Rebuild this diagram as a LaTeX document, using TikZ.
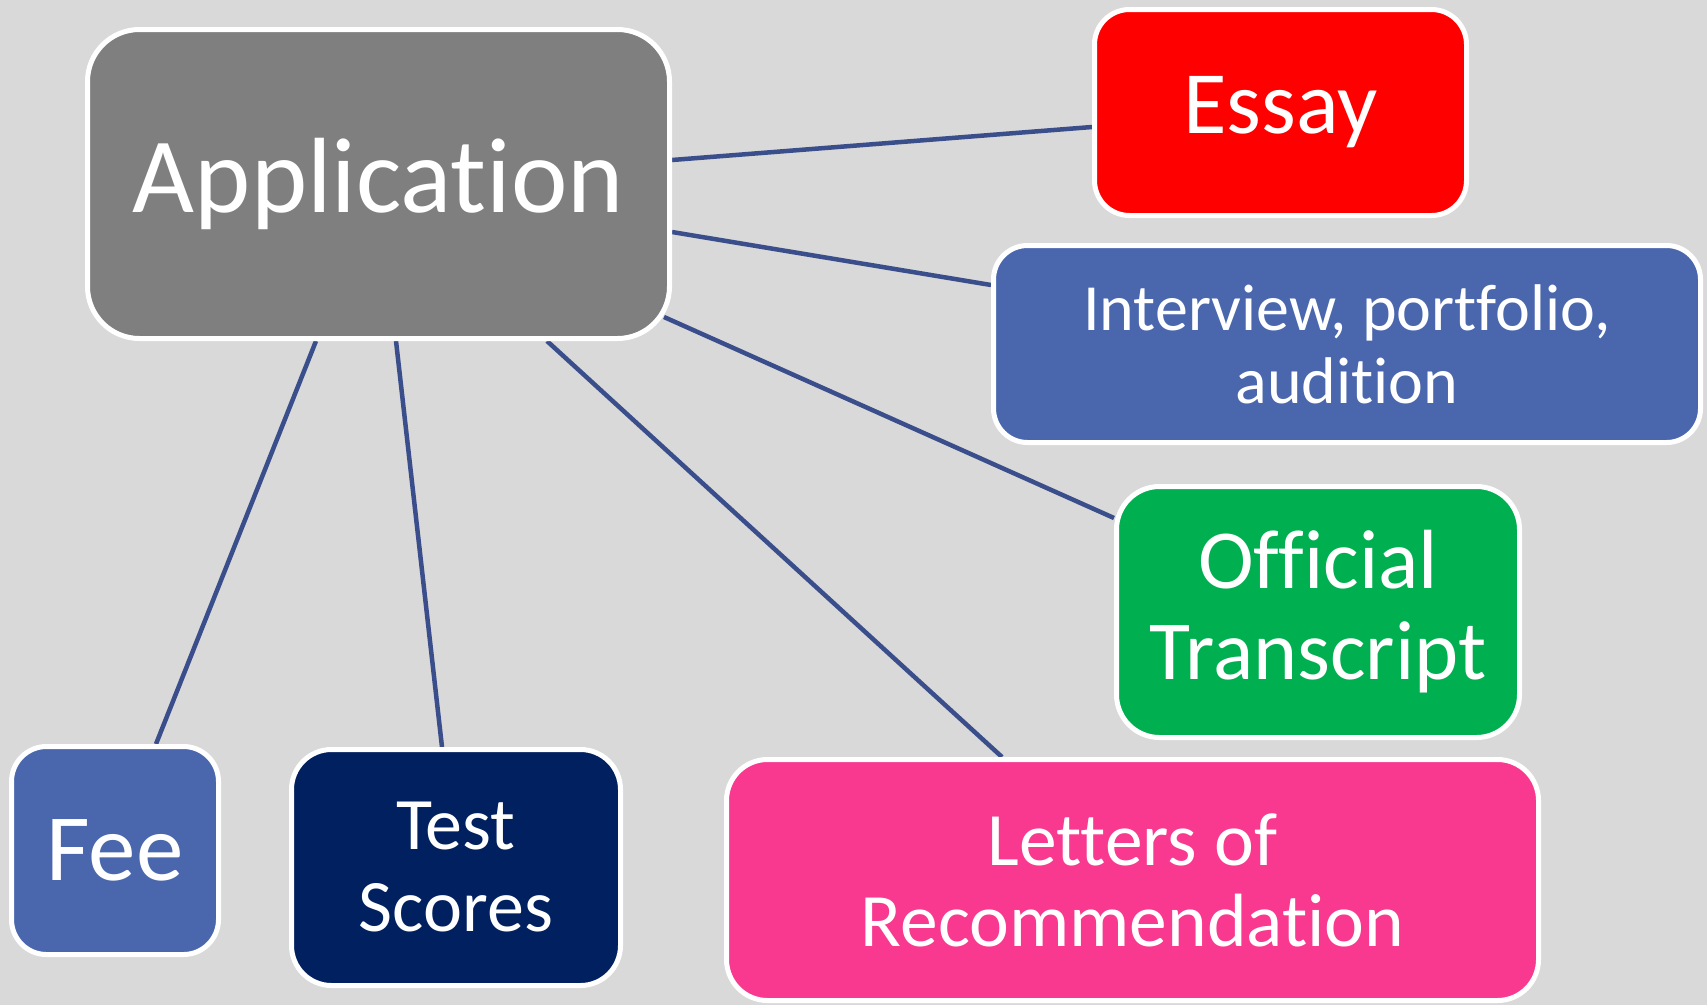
\documentclass[tikz,border=0pt]{standalone}
\usepackage{fontspec}
\setmainfont{Carlito}[Ligatures={NoCommon}]
\usetikzlibrary{calc}
\definecolor{canvas}{HTML}{D9D9D9}
\definecolor{linkblue}{HTML}{3A4E8C}
\definecolor{appgray}{HTML}{7F7F7F}
\definecolor{essayred}{HTML}{FF0000}
\definecolor{midblue}{HTML}{4A67AE}
\definecolor{navy}{HTML}{002060}
\definecolor{leafgreen}{HTML}{00B050}
\definecolor{hotpink}{HTML}{F9388F}
\pgfdeclarelayer{back}
\pgfdeclarelayer{links}
\pgfsetlayers{back,links,main}
\tikzset{
  card/.style={draw=white, line width=5pt, text=white, align=center,
    inner sep=0pt},
  link/.style={draw=linkblue, line width=4.5pt}
}
\newcommand{\fs}[2]{\fontsize{#1}{#2}\selectfont}
\begin{document}
\begin{tikzpicture}[x=1pt,y=-1pt]
  \begin{pgfonlayer}{back}
    \fill[canvas] (0,0) rectangle (1707,1005);
  \end{pgfonlayer}
  \useasboundingbox (0,0) rectangle (1707,1005);

  % hub and its parts
  \node[card, fill=appgray, minimum width=582pt, minimum height=309pt,
        rounded corners=52pt, font=\fs{107}{116}] (app) at (378.5,184)
        {\raisebox{-2pt}{Application}};
  \node[card, fill=essayred, minimum width=372pt, minimum height=206pt,
        rounded corners=35pt, font=\fs{89}{96}] (essay) at (1280.5,112.5)
        {\raisebox{-3pt}{Essay}};
  \node[card, fill=midblue, minimum width=707pt, minimum height=197pt,
        rounded corners=34pt, font=\fs{66}{73}] (interview) at (1347,344)
        {Interview, portfolio,\\audition};
  \node[card, fill=leafgreen, minimum width=403pt, minimum height=251pt,
        rounded corners=43pt, font=\fs{84}{91}] (transcript) at (1318,612)
        {Official\\Transcript};
  \node[card, fill=midblue, minimum width=207pt, minimum height=208pt,
        rounded corners=35pt, font=\fs{95}{100}] (fee) at (115,850.5) {Fee};
  \node[card, fill=navy, minimum width=329pt, minimum height=236pt,
        rounded corners=40pt, font=\fs{74}{82}] (tests) at (456,867.5)
        {Test\\Scores};
  \node[card, fill=hotpink, minimum width=812pt, minimum height=241pt,
        rounded corners=41pt, font=\fs{75.5}{81}] (letters) at (1132.5,880)
        {Letters of\\Recommendation};

  % connectors, kept beneath the cards
  \begin{pgfonlayer}{links}
    \draw[link] ($(app.east)+(0,-24)$) -- ($(essay.west)+(0,14.5)$);
    \draw[link] ($(app.east)+(0,48)$) -- ($(interview.west)+(0,-59)$);
    \draw[link] ($(app.east)+(-8,133)$) -- ($(transcript.west)+(0,-94)$);
    \draw[link] ($(app.south)+(168.5,0)$) -- ($(letters.north)+(-130.5,0)$);
    \draw[link] ($(app.south)+(17.5,0)$) -- ($(tests.north)+(-14,0)$);
    \draw[link] ($(app.south)+(-62.5,0)$) -- ($(fee.north)+(41,0)$);
  \end{pgfonlayer}
\end{tikzpicture}
\end{document}
